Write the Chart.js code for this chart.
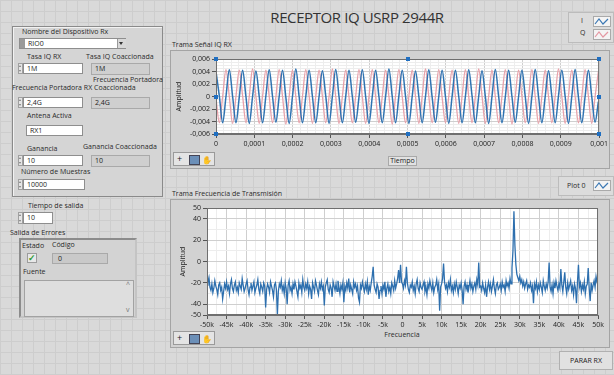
<!DOCTYPE html>
<html>
<head>
<meta charset="utf-8">
<script src="https://cdn.jsdelivr.net/npm/chart.js@4.4.1/dist/chart.umd.min.js"></script>
<style>
body{margin:0;width:614px;height:375px;overflow:hidden;position:relative;
  font-family:"Open Sans","Noto Sans",sans-serif;font-size:7px;color:#222;
  background-color:#d9d9d9;
  background-image:linear-gradient(#cdcdcd 1px,transparent 1px),linear-gradient(90deg,#cdcdcd 1px,transparent 1px);
  background-size:11px 11px}
.t{position:absolute;white-space:nowrap;font-size:7px;line-height:10px;color:#2a2a2a}
.caja{position:absolute;box-sizing:border-box;background:#fff;border:1px solid #8e8e8e;font-size:7px;line-height:9px;padding-left:3px;color:#222}
.ind{background:#cfcfcf;border:1px solid #a9a9a9}
.spin{position:absolute;box-sizing:border-box;width:5px;background:#e6e6e6;border:1px solid #a0a0a0}
.spin:before,.spin:after{content:"";position:absolute;left:0;border-left:1.5px solid transparent;border-right:1.5px solid transparent}
.spin:before{top:1px;border-bottom:2px solid #777}
.spin:after{bottom:1px;border-top:2px solid #777}
.panel{position:absolute;box-sizing:border-box;background:#d2d2d2;border:1px solid #a4a4a4}
.herr{position:absolute;box-sizing:border-box;width:42px;height:14px;background:#e4e4e4;border:1px solid #9a9a9a;font-size:9px;line-height:12px}
canvas{position:absolute}
</style>
</head>
<body>

<div class="t" style="left:100px;width:514px;top:7px;text-align:center;font-size:15px;line-height:20px;letter-spacing:-0.4px;color:#333">RECEPTOR IQ USRP 2944R</div>

<!-- cluster de configuración -->
<div class="panel" style="left:12px;top:26px;width:151px;height:171px;background:#d5d5d5;border-color:#8a8a8a;box-shadow:inset 1px 1px 0 #f2f2f2"></div>
<div class="t" style="left:22px;top:27px">Nombre del Dispositivo Rx</div>
<div class="caja" style="left:19px;top:38px;width:107px;height:11px;padding-left:8px">RIO0</div>
<div style="position:absolute;left:20px;top:39px;width:5px;height:9px;background:#9a9a9a"></div>
<div style="position:absolute;left:117px;top:39px;width:8px;height:9px;background:#d8d8d8;border-left:1px solid #999"></div>
<div style="position:absolute;left:119px;top:42px;border-left:2.5px solid transparent;border-right:2.5px solid transparent;border-top:3px solid #333"></div>

<div class="t" style="left:27px;top:52px">Tasa IQ RX</div>
<div class="t" style="left:86px;top:52px">Tasa IQ Coaccionada</div>
<div class="spin" style="left:18px;top:63px;height:11px"></div>
<div class="caja" style="left:23px;top:63px;width:60px;height:11px">1M</div>
<div class="caja ind" style="left:91px;top:63px;width:59px;height:12px">1M</div>

<div class="t" style="left:93px;top:75px">Frecuencia Portadora</div>
<div class="t" style="left:12px;top:83px">Frecuencia Portadora RX Coaccionada</div>
<div class="spin" style="left:18px;top:97px;height:11px"></div>
<div class="caja" style="left:23px;top:97px;width:60px;height:11px">2,4G</div>
<div class="caja ind" style="left:91px;top:97px;width:59px;height:12px">2,4G</div>

<div class="t" style="left:27px;top:111px">Antena Activa</div>
<div class="caja" style="left:26px;top:125px;width:57px;height:11px">RX1</div>

<div class="t" style="left:27px;top:144px">Ganancia</div>
<div class="t" style="left:83px;top:142px">Ganancia Coaccionada</div>
<div class="spin" style="left:18px;top:155px;height:11px"></div>
<div class="caja" style="left:23px;top:155px;width:60px;height:11px">10</div>
<div class="caja ind" style="left:91px;top:155px;width:59px;height:12px">10</div>

<div class="t" style="left:21px;top:167px">Número de Muestras</div>
<div class="spin" style="left:18px;top:179px;height:11px"></div>
<div class="caja" style="left:23px;top:179px;width:62px;height:11px">10000</div>

<!-- tiempo y errores -->
<div class="t" style="left:28px;top:201px">Tiempo de salida</div>
<div class="spin" style="left:18px;top:212px;height:12px"></div>
<div class="caja" style="left:23px;top:212px;width:30px;height:12px">10</div>
<div class="t" style="left:10px;top:228px">Salida de Errores</div>
<div class="panel" style="left:19px;top:238px;width:118px;height:80px;background:#d3d3d3;border:2px solid #8c8c8c;border-right-color:#c4c4c4;border-bottom-color:#c4c4c4"></div>
<div class="t" style="left:22px;top:241px">Estado</div>
<div class="t" style="left:52px;top:240px">Código</div>
<div style="position:absolute;left:27px;top:253px;width:10px;height:10px;box-sizing:border-box;background:#e8e8e8;border:1px solid #9c9c9c;color:#2f9a2f;font-size:9px;line-height:8px;text-align:center;font-weight:bold">✓</div>
<div class="caja ind" style="left:52px;top:253px;width:56px;height:11px;padding-left:5px;background:#c9c9c9">0</div>
<div class="t" style="left:23px;top:267px">Fuente</div>
<div class="caja" style="left:24px;top:280px;width:110px;height:37px;background:#dedede;border-color:#a2a2a2"></div>
<div class="t" style="left:126px;top:280px;color:#777">^</div>
<div class="t" style="left:126px;top:305px;color:#777">v</div>

<!-- gráfico IQ -->
<div class="t" style="left:172px;top:40px">Trama Señal IQ RX</div>
<div class="panel" style="left:170px;top:50px;width:440px;height:119px"></div>
<div class="herr" style="left:173px;top:152px">
 <span style="position:absolute;left:3px;top:0">+</span>
 <span style="position:absolute;left:15px;top:2px;width:9px;height:8px;background:#6b8fb8;border:1px solid #445"></span>
 <span style="position:absolute;left:28px;top:1px;font-size:8px">✋</span>
</div>
<div class="caja ind" style="left:388px;top:156px;width:29px;height:10px;background:#e2e2e2;text-align:center;padding:0;line-height:8px">Tiempo</div>
<canvas id="graficoIQ" width="440" height="100" style="left:170px;top:50px"></canvas>

<div class="panel" style="left:568px;top:12px;width:46px;height:31px;background:#dcdcdc;border-color:#bcbcbc"></div>
<div class="t" style="left:581px;top:16px">I</div>
<div class="t" style="left:580px;top:28px">Q</div>
<svg style="position:absolute;left:593px;top:16px" width="18" height="11"><rect x="0.5" y="0.5" width="17" height="10" fill="#f4f4f4" stroke="#aaa"/><polyline points="2,8 6,3 10,8 15,3" fill="none" stroke="#3b78b4" stroke-width="1.2"/></svg>
<svg style="position:absolute;left:593px;top:29px" width="18" height="11"><rect x="0.5" y="0.5" width="17" height="10" fill="#f4f4f4" stroke="#aaa"/><polyline points="2,8 6,3 10,8 15,3" fill="none" stroke="#e497a2" stroke-width="1.2"/></svg>

<!-- gráfico FFT -->
<div class="t" style="left:172px;top:189px">Trama Frecuencia de Transmisión</div>
<div class="panel" style="left:170px;top:199px;width:440px;height:149px"></div>
<div class="herr" style="left:173px;top:331px">
 <span style="position:absolute;left:3px;top:0">+</span>
 <span style="position:absolute;left:15px;top:2px;width:9px;height:8px;background:#6b8fb8;border:1px solid #445"></span>
 <span style="position:absolute;left:28px;top:1px;font-size:8px">✋</span>
</div>
<div class="t" style="left:382px;top:330px;width:40px;text-align:center">Frecuencia</div>
<canvas id="graficoFFT" width="440" height="131" style="left:170px;top:200px"></canvas>

<div class="panel" style="left:558px;top:176px;width:56px;height:20px;background:#dcdcdc;border-color:#bcbcbc"></div>
<div class="t" style="left:567px;top:181px">Plot 0</div>
<svg style="position:absolute;left:593px;top:180px" width="18" height="11"><rect x="0.5" y="0.5" width="17" height="10" fill="#f4f4f4" stroke="#aaa"/><polyline points="2,8 6,3 10,8 15,3" fill="none" stroke="#3b78b4" stroke-width="1.2"/></svg>

<div class="caja" style="left:559px;top:351px;width:54px;height:19px;background:#e1e1e1;border-color:#b0b0b0;text-align:center;line-height:17px;padding:0">PARAR RX</div>

<script>
Chart.defaults.font.family = "'Open Sans', 'Noto Sans', sans-serif";
Chart.defaults.font.size = 7;
Chart.defaults.color = '#222';

// señal IQ leída cada cuarto de periodo (t0 = 0)
const pasoTiempo = 8.68e-6;
const senalI = [
  0.0040, 0.0001, -0.0042, 0,   0.0043, 0, -0.0042, -0.0001,  0.0042, 0, -0.0043, 0,   0.0041, 0, -0.0042, 0.0001,
  0.0043, 0, -0.0041, 0,   0.0042, -0.0001, -0.0043, 0,   0.0044, 0, -0.0042, 0,   0.0042, 0, -0.0042, 0,
  0.0041, 0.0001, -0.0043, 0,   0.0043, 0, -0.0042, 0,   0.0042, 0, -0.0041, -0.0001,  0.0043, 0, -0.0043, 0,
  0.0042, 0, -0.0042, 0,   0.0044, 0, -0.0042, 0.0001,  0.0042, 0, -0.0043, 0,   0.0041, 0, -0.0042, 0,
  0.0043, -0.0001, -0.0041, 0,  0.0042, 0, -0.0043, 0,   0.0042, 0, -0.0042, 0,   0.0043, 0.0001, -0.0042, 0,
  0.0041, 0, -0.0043, 0,   0.0043, 0, -0.0042, -0.0001,  0.0042, 0, -0.0041, 0,   0.0042, 0, -0.0043, 0,
  0.0043, 0, -0.0042, 0,   0.0041, 0, -0.0042, 0.0001,  0.0042, 0, -0.0043, 0,   0.0043, -0.0001, -0.0042, 0,
  0.0042, 0, -0.0041, -0.0008
];
const senalQ = [
  -0.0003, -0.0042, 0, 0.0043,  0, -0.0043, 0, 0.0042,  0.0001, -0.0042, 0, 0.0044,  0, -0.0043, 0, 0.0042,
  0, -0.0042, -0.0001, 0.0043,  0, -0.0044, 0, 0.0042,  0, -0.0042, 0, 0.0043,  0.0001, -0.0043, 0, 0.0042,
  0, -0.0042, 0, 0.0044,  0, -0.0043, 0, 0.0042,  -0.0001, -0.0042, 0, 0.0043,  0, -0.0043, 0, 0.0043,
  0, -0.0042, 0, 0.0042,  0, -0.0044, 0.0001, 0.0043,  0, -0.0042, 0, 0.0042,  0, -0.0043, 0, 0.0044,
  0, -0.0042, 0, 0.0043,  -0.0001, -0.0042, 0, 0.0042,  0, -0.0043, 0, 0.0043,  0, -0.0042, 0, 0.0044,
  0.0001, -0.0043, 0, 0.0042,  0, -0.0042, 0, 0.0043,  0, -0.0044, 0, 0.0042,  0, -0.0042, -0.0001, 0.0043,
  0, -0.0043, 0, 0.0042,  0, -0.0042, 0, 0.0044,  0, -0.0043, 0.0001, 0.0042,  0, -0.0042, 0, 0.0043,
  0, -0.0043, 0, 0.0040
];
const ticksTiempo = [0, 0.0001, 0.0002, 0.0003, 0.0004, 0.0005, 0.0006, 0.0007, 0.0008, 0.0009, 0.001];
const etiquetasTiempo = ['0', '0,0001', '0,0002', '0,0003', '0,0004', '0,0005', '0,0006', '0,0007', '0,0008', '0,0009', '0,001'];
const ticksAmpIQ = [-0.006, -0.004, -0.002, 0, 0.002, 0.004, 0.006];
const etiquetasAmpIQ = ['-0,006', '-0,004', '-0,002', '0', '0,002', '0,004', '0,006'];

// espectro, de -50k a 50k cada 250 Hz (una fila = 5 kHz)
const frecInicio = -50000;
const pasoFrec = 250;
const espectro = [
  -22, -19, -15, -24, -27, -21, -29, -25, -18, -23, -26, -31, -22, -20, -27, -24, -35, -28, -21, -25,
  -19, -26, -23, -30, -21, -17, -25, -28, -22, -19, -27, -24, -29, -20, -23, -26, -16, -22, -28, -25,
  -21, -18, -26, -31, -24, -20, -27, -23, -19, -29, -25, -22, -17, -26, -30, -21, -24, -28, -20, -23,
  -43, -26, -21, -24, -29, -19, -23, -27, -33, -22, -20, -26, -50, -28, -21, -24, -18, -27, -23, -30,
  -20, -25, -40, -22, -18, -27, -24, -30, -21, -26, -19, -23, -28, -33, -20, -25, -22, -29, -17, -24,
  -27, -21, -25, -19, -30, -23, -26, -35, -20, -24, -28, -18, -22, -27, -31, -21, -25, -19, -26, -23,
  -41, -24, -20, -17, -26, -29, -22, -25, -33, -19, -23, -27, -21, -28, -18, -24, -30, -22, -26, -20,
  -38, -23, -27, -20, -25, -16, -29, -22, -26, -30, -19, -24, -21, -27, -23, -34, -38, -22, -25, -19,
  -24, -28, -21, -26, -19, -31, -23, -27, -20, -14, -5, -22, -26, -29, -21, -24, -35, -27, -23, -30,
  -22, -26, -19, -33, -25, -21, -28, -24, -30, -20, -23, -27, -18, -25, -21, -16, -8, -20, -3, -19,
  -21, -25, -18, -22, -5, -20, -26, -29, -22, -24, -19, -27, -23, -30, -21, -17, -25, -28, -20, -24,
  -26, -22, -19, -28, -24, -31, -21, -25, -18, -23, -27, -20, -29, -24, -22, -17, -26, -21, -46, -24,
  -21, -16, -2, -19, -25, -22, -28, -20, -24, -17, -27, -23, -29, -21, -26, -19, -24, -30, -22, -25,
  -20, -27, -40, -23, -19, -26, -22, -29, -24, -18, -25, -21, -28, -23, -20, -26, -17, -22, -1, -24,
  -23, -27, -20, -25, -29, -22, -33, -24, -19, -26, -21, -28, -23, -17, -25, -30, -22, -20, -26, -24,
  -21, -27, -19, -24, -22, -28, -18, -23, -20, -25, -16, -21, -6, 10, 47, 15, -3, -12, -15, -18,
  -14, -20, -17, -23, -19, -25, -21, -18, -26, -22, -24, -20, -27, -23, -39, -21, -25, -19, -28, -22,
  -26, -20, -24, -29, -18, -23, -27, -21, -25, -19, -1, -24, -28, -22, -30, -20, -25, -18, -23, -27,
  -21, -25, -7, -22, -28, -19, -10, -24, -30, -20, -26, -22, -18, -27, -23, -31, -21, -25, -39, -19,
  -3, -24, -20, -28, -22, -26, -19, -30, -23, -21, -6, -25, -37, -20, -27, -22, -18, -24, -14, -19,
  -23
];
const ticksFrec = [-50000, -45000, -40000, -35000, -30000, -25000, -20000, -15000, -10000, -5000, 0,
  5000, 10000, 15000, 20000, 25000, 30000, 35000, 40000, 45000, 50000];
const etiquetasFrec = ['-50k', '-45k', '-40k', '-35k', '-30k', '-25k', '-20k', '-15k', '-10k', '-5k', '0',
  '5k', '10k', '15k', '20k', '25k', '30k', '35k', '40k', '45k', '50k'];
const ticksAmpFFT = [-50, -40, -20, 0, 20, 40, 50];
const etiquetasAmpFFT = ['-50', '-40', '-20', '0', '20', '40', '50'];

// ticks mayores + menores para la rejilla
function conMenores(mayores, divisiones) {
    const ticks = [];
    for (let i = 0; i < mayores.length; i++) {
        ticks.push({ value: mayores[i], principal: true, label: i });
        if (i < mayores.length - 1) {
            const d = (mayores[i + 1] - mayores[i]) / divisiones;
            for (let k = 1; k < divisiones; k++) ticks.push({ value: mayores[i] + d * k, principal: false });
        }
    }
    return ticks;
}

function escala(mayores, etiquetas, divisiones, extra) {
    return Object.assign({
        type: 'linear',
        min: mayores[0],
        max: mayores[mayores.length - 1],
        afterBuildTicks: s => { s.ticks = conMenores(mayores, divisiones); },
        ticks: {
            autoSkip: false, maxRotation: 0, padding: 2, color: '#222',
            callback: (v, i, ticks) => ticks[i].principal ? etiquetas[ticks[i].label] : ''
        },
        grid: {
            color: c => c.tick && c.tick.principal ? '#cfcfcf' : '#ededed',
            tickColor: c => c.tick && c.tick.principal ? '#555' : 'rgba(0,0,0,0)',
            tickLength: 4
        },
        border: { color: '#6f6f6f' }
    }, extra);
}

const marco = {
    id: 'marco',
    beforeDraw(chart) {
        const a = chart.chartArea, ctx = chart.ctx;
        ctx.save();
        ctx.fillStyle = '#ffffff';
        ctx.fillRect(a.left, a.top, a.right - a.left, a.bottom - a.top);
        ctx.restore();
    },
    afterDraw(chart, args, opts) {
        const a = chart.chartArea, ctx = chart.ctx;
        ctx.save();
        ctx.strokeStyle = '#6f6f6f';
        ctx.lineWidth = 1;
        ctx.strokeRect(a.left + 0.5, a.top + 0.5, a.right - a.left - 1, a.bottom - a.top - 1);
        if (opts.manijas) {
            ctx.fillStyle = '#1f6fc2';
            const xs = [a.left, (a.left + a.right) / 2, a.right];
            const ys = [a.top, (a.top + a.bottom) / 2, a.bottom];
            xs.forEach((x, i) => ys.forEach((y, j) => {
                if (i === 1 && j === 1) return;
                ctx.fillRect(Math.round(x) - 2, Math.round(y) - 2, 4, 4);
            }));
        }
        ctx.restore();
    }
};

new Chart(document.getElementById('graficoIQ'), {
    type: 'line',
    data: {
        datasets: [
            { label: 'I', data: senalI.map((y, i) => ({ x: i * pasoTiempo, y })), borderColor: '#2f73b2', borderWidth: 1.5, pointRadius: 0, cubicInterpolationMode: 'monotone' },
            { label: 'Q', data: senalQ.map((y, i) => ({ x: i * pasoTiempo, y })), borderColor: '#e8a1aa', borderWidth: 1.3, pointRadius: 0, cubicInterpolationMode: 'monotone' }
        ]
    },
    options: {
        responsive: false, animation: false,
        layout: { padding: { left: 5, top: 9, right: 8, bottom: 0 } },
        plugins: { legend: { display: false }, tooltip: { enabled: false }, marco: { manijas: true } },
        scales: {
            x: escala(ticksTiempo, etiquetasTiempo, 5, { afterFit: s => { s.height = 16; } }),
            y: escala(ticksAmpIQ, etiquetasAmpIQ, 4, {
                title: { display: true, text: 'Amplitud', padding: 0, font: { size: 7 } },
                afterFit: s => { s.width = 41; }
            })
        }
    },
    plugins: [marco]
});

new Chart(document.getElementById('graficoFFT'), {
    type: 'line',
    data: {
        datasets: [
            { label: 'Plot 0', data: espectro.map((y, i) => ({ x: frecInicio + i * pasoFrec, y })), borderColor: '#2d6fae', borderWidth: 1.3, pointRadius: 0, tension: 0 }
        ]
    },
    options: {
        responsive: false, animation: false,
        layout: { padding: { left: 9, top: 8, right: 12, bottom: 0 } },
        plugins: { legend: { display: false }, tooltip: { enabled: false }, marco: { manijas: false } },
        scales: {
            x: escala(ticksFrec, etiquetasFrec, 2, { afterFit: s => { s.height = 16; } }),
            y: Object.assign(escala(ticksAmpFFT, etiquetasAmpFFT, 1, {
                title: { display: true, text: 'Amplitud', padding: 0, font: { size: 7 } },
                afterFit: s => { s.width = 28; }
            }), {
                afterBuildTicks: s => {
                    s.ticks = conMenores(ticksAmpFFT, 1);
                    [-30, -10, 10, 30].forEach(v => s.ticks.push({ value: v, principal: false }));
                    s.ticks.sort((a, b) => a.value - b.value);
                }
            })
        }
    },
    plugins: [marco]
});
</script>
</body>
</html>
